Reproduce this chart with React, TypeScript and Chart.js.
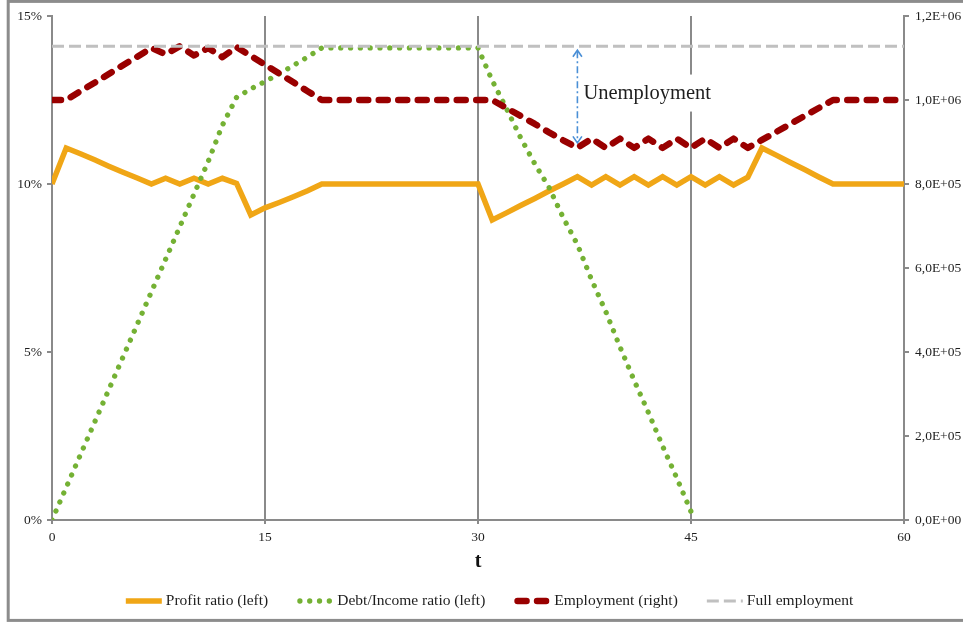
import React, { useEffect, useRef } from "react";
import { Chart, registerables } from "chart.js";

Chart.register(...registerables);

const SERIF = "'Liberation Serif', 'Times New Roman', serif";

const t = [
  0, 1, 2, 3, 4, 5, 6, 7, 8, 9, 10, 11, 12, 13, 14, 15, 16, 17, 18, 19, 20,
  21, 22, 23, 24, 25, 26, 27, 28, 29, 30, 31, 32, 33, 34, 35, 36, 37, 38, 39, 40,
  41, 42, 43, 44, 45, 46, 47, 48, 49, 50, 51, 52, 53, 54, 55, 56, 57, 58, 59, 60,
];

const xTickValues = [0, 15, 30, 45, 60];
const leftTickValues = [0, 5, 10, 15];
const rightTickValues = [0, 200000, 400000, 600000, 800000, 1000000, 1200000];

// Profit ratio (left axis, %)
const profitRatio = [
  10.0, 11.07, 10.9, 10.72, 10.53, 10.35, 10.18, 10.0, 10.17, 10.0, 10.17,
  10.0, 10.17, 10.02, 9.08, 9.29, 9.45, 9.62, 9.8, 10.0, 10.0,
  10.0, 10.0, 10.0, 10.0, 10.0, 10.0, 10.0, 10.0, 10.0, 10.0,
  8.93, 9.14, 9.36, 9.57, 9.79, 10.0, 10.22, 9.97, 10.22, 9.97,
  10.22, 9.97, 10.22, 9.97, 10.22, 9.97, 10.22, 9.97, 10.2, 11.07,
  10.86, 10.64, 10.43, 10.21, 10.0, 10.0, 10.0, 10.0, 10.0, 10.0,
];

// Debt/Income ratio (left axis, %), t = 0..45
const debtIncomeRatio = [
  0, 0.97, 1.94, 2.91, 3.88, 4.85, 5.82, 6.79, 7.76, 8.73, 9.7,
  10.67, 11.75, 12.58, 12.83, 13.05, 13.28, 13.53, 13.78, 14.05, 14.05,
  14.05, 14.05, 14.05, 14.05, 14.05, 14.05, 14.05, 14.05, 14.05, 14.05,
  13.08, 12.25, 11.38, 10.6, 9.9, 9.0, 8.2, 7.15, 6.2, 5.15,
  4.15, 3.2, 2.2, 1.25, 0.25,
];

// Employment (right axis)
const employment = [
  1.0e6, 1.0e6, 1.021e6, 1.041e6, 1.062e6, 1.083e6, 1.103e6, 1.124e6, 1.109e6, 1.128e6, 1.106e6,
  1.124e6, 1.102e6, 1.126e6, 1.105e6, 1.084e6, 1.063e6, 1.042e6, 1.021e6, 1.0e6, 1.0e6,
  1.0e6, 1.0e6, 1.0e6, 1.0e6, 1.0e6, 1.0e6, 1.0e6, 1.0e6, 1.0e6, 1.0e6,
  1.0e6, 0.981e6, 0.962e6, 0.943e6, 0.923e6, 0.904e6, 0.886e6, 0.908e6, 0.886e6, 0.908e6,
  0.886e6, 0.908e6, 0.886e6, 0.908e6, 0.886e6, 0.908e6, 0.886e6, 0.908e6, 0.886e6, 0.905e6,
  0.924e6, 0.943e6, 0.962e6, 0.981e6, 1.0e6, 1.0e6, 1.0e6, 1.0e6, 1.0e6, 1.0e6,
];

// Full employment (right axis)
const fullEmploymentT = [0, 60];
const fullEmployment = [1128000, 1128000];

const seriesNames = [
  "Profit ratio (left)",
  "Debt/Income ratio (left)",
  "Employment (right)",
  "Full employment",
];

const xTitle = "t";
const annotationText = "Unemployment";
const annotationT = 37;

const AXIS_GRAY = "#8a8a8a";
const TEXT = "#1e1e1e";

function toPoints(xs: number[], ys: number[]) {
  return ys.map((y, i) => ({ x: xs[i], y }));
}

function sciLabel(v: number) {
  const [m, e] = Number(v).toExponential(1).split("e");
  const sign = e[0] === "-" ? "-" : "+";
  const digits = e.replace(/[+-]/, "").padStart(2, "0");
  return `${m.replace(".", ",")}E${sign}${digits}`;
}

const borderPlugin = {
  id: "outerBorder",
  beforeDraw(chart: any) {
    const ctx = chart.ctx;
    ctx.save();
    ctx.fillStyle = "#ffffff";
    ctx.fillRect(0, 0, chart.width, chart.height);
    ctx.strokeStyle = "#8c8c8c";
    ctx.lineWidth = 3;
    ctx.strokeRect(8.2, 1.4, chart.width + 10, 619);
    ctx.restore();
  },
};

const annotationPlugin = {
  id: "unemploymentArrow",
  afterDatasetsDraw(chart: any) {
    const ctx = chart.ctx;
    const xs = chart.scales.x;
    const y2 = chart.scales.y2;
    const idx = t.indexOf(annotationT);
    const x = xs.getPixelForValue(annotationT);
    const yTop = y2.getPixelForValue(fullEmployment[0]) + 4;
    const yBot = y2.getPixelForValue(employment[idx]) - 5;
    ctx.save();
    ctx.font = `20.5px ${SERIF}`;
    const w = ctx.measureText(annotationText).width;
    const ty = (yTop + yBot) / 2 - 3;
    ctx.fillStyle = "#ffffff";
    ctx.fillRect(x + 3, ty - 19, w + 10, 37);
    ctx.fillStyle = TEXT;
    ctx.textBaseline = "middle";
    ctx.textAlign = "left";
    ctx.fillText(annotationText, x + 6, ty);
    ctx.strokeStyle = "#4a8fd6";
    ctx.lineWidth = 1.6;
    ctx.setLineDash([7, 3, 2, 3]);
    ctx.beginPath();
    ctx.moveTo(x, yTop + 1);
    ctx.lineTo(x, yBot - 1);
    ctx.stroke();
    ctx.setLineDash([]);
    ctx.beginPath();
    ctx.moveTo(x - 4.5, yTop + 6.5);
    ctx.lineTo(x, yTop);
    ctx.lineTo(x + 4.5, yTop + 6.5);
    ctx.moveTo(x - 4.5, yBot - 6.5);
    ctx.lineTo(x, yBot);
    ctx.lineTo(x + 4.5, yBot - 6.5);
    ctx.stroke();
    ctx.restore();
  },
};

const legendPlugin = {
  id: "lineLegend",
  afterDraw(chart: any) {
    const ctx = chart.ctx;
    const datasets = chart.data.datasets;
    ctx.save();
    ctx.font = `15.5px ${SERIF}`;
    const sampleW = 36;
    const textGap = 4;
    const itemGap = 29;
    const widths = datasets.map(
      (ds: any) => sampleW + textGap + ctx.measureText(ds.label).width
    );
    const total =
      widths.reduce((a: number, b: number) => a + b, 0) +
      itemGap * (datasets.length - 1);
    let x = chart.width / 2 + 8 - total / 2;
    const y = 601;
    datasets.forEach((ds: any, i: number) => {
      ctx.save();
      ctx.strokeStyle = ds.borderColor;
      ctx.lineWidth = ds.borderWidth;
      ctx.lineCap = ds.borderCapStyle || "butt";
      ctx.setLineDash(ds.borderDash || []);
      ctx.beginPath();
      const inset = ctx.lineCap === "round" ? ds.borderWidth / 2 : 0;
      ctx.moveTo(x + inset, y);
      ctx.lineTo(x + sampleW - inset, y);
      ctx.stroke();
      ctx.restore();
      ctx.fillStyle = TEXT;
      ctx.textBaseline = "middle";
      ctx.textAlign = "left";
      ctx.fillText(ds.label, x + sampleW + textGap, y);
      x += widths[i] + itemGap;
    });
    ctx.restore();
  },
};

export default function App() {
  const ref = useRef<HTMLCanvasElement>(null);

  useEffect(() => {
    if (!ref.current) return;
    const tickFont = { family: SERIF, size: 13.5 };
    const chart = new Chart(ref.current, {
      type: "line",
      data: {
        datasets: [
          {
            label: seriesNames[0],
            data: toPoints(t, profitRatio),
            yAxisID: "y",
            borderColor: "#f0a616",
            borderWidth: 5.5,
            borderCapStyle: "butt",
            borderJoinStyle: "miter",
            pointRadius: 0,
            tension: 0,
            order: 4,
          },
          {
            label: seriesNames[1],
            data: toPoints(t, debtIncomeRatio),
            yAxisID: "y",
            borderColor: "#74b134",
            borderWidth: 5.3,
            borderDash: [0.01, 9.8],
            borderCapStyle: "round",
            pointRadius: 0,
            tension: 0,
            order: 3,
          },
          {
            label: seriesNames[2],
            data: toPoints(t, employment),
            yAxisID: "y2",
            borderColor: "#990000",
            borderWidth: 6.5,
            borderDash: [9, 10.5],
            borderCapStyle: "round",
            borderJoinStyle: "round",
            pointRadius: 0,
            tension: 0,
            order: 2,
          },
          {
            label: seriesNames[3],
            data: toPoints(fullEmploymentT, fullEmployment),
            yAxisID: "y2",
            borderColor: "#c0c0c0",
            borderWidth: 3,
            borderDash: [12, 5],
            borderCapStyle: "butt",
            pointRadius: 0,
            tension: 0,
            order: 1,
          },
        ] as any,
      },
      options: {
        responsive: false,
        animation: false,
        layout: { padding: { top: 16, left: 0, right: 0, bottom: 0 } },
        plugins: {
          legend: { display: false },
          tooltip: { enabled: false },
        },
        scales: {
          x: {
            type: "linear",
            min: 0,
            max: 60,
            afterBuildTicks: (scale: any) => {
              scale.ticks = xTickValues.map((v) => ({ value: v }));
            },
            afterFit: (scale: any) => {
              scale.height = 103;
            },
            ticks: {
              font: tickFont,
              color: TEXT,
              padding: 5,
              maxRotation: 0,
              autoSkip: false,
            },
            grid: {
              color: AXIS_GRAY,
              lineWidth: 2,
              drawTicks: true,
              tickLength: 4,
            },
            border: { display: true, color: AXIS_GRAY, width: 2 },
            title: {
              display: true,
              text: xTitle,
              color: "#111",
              font: { family: SERIF, size: 20, weight: "bold" },
              padding: { top: 0, bottom: 49 },
            },
          },
          y: {
            type: "linear",
            position: "left",
            min: 0,
            max: 15,
            afterBuildTicks: (scale: any) => {
              scale.ticks = leftTickValues.map((v) => ({ value: v }));
            },
            afterFit: (scale: any) => {
              scale.width = 52;
            },
            ticks: {
              font: tickFont,
              color: TEXT,
              padding: 5,
              callback: (v: any) => `${v}%`,
            },
            grid: {
              drawOnChartArea: false,
              color: AXIS_GRAY,
              lineWidth: 2,
              drawTicks: true,
              tickLength: 5,
            },
            border: { display: true, color: AXIS_GRAY, width: 2 },
          },
          y2: {
            type: "linear",
            position: "right",
            min: 0,
            max: 1200000,
            afterBuildTicks: (scale: any) => {
              scale.ticks = rightTickValues.map((v) => ({ value: v }));
            },
            afterFit: (scale: any) => {
              scale.width = 59;
            },
            ticks: {
              font: tickFont,
              color: TEXT,
              padding: 6,
              callback: (v: any) => sciLabel(Number(v)),
            },
            grid: {
              drawOnChartArea: false,
              color: AXIS_GRAY,
              lineWidth: 2,
              drawTicks: true,
              tickLength: 5,
            },
            border: { display: true, color: AXIS_GRAY, width: 2 },
          },
        },
      } as any,
      plugins: [borderPlugin, annotationPlugin, legendPlugin],
    });
    return () => chart.destroy();
  }, []);

  return (
    <div
      style={{
        position: "absolute",
        left: 0,
        top: 0,
        width: 963,
        height: 623,
        background: "#fff",
      }}
    >
      <canvas
        ref={ref}
        width={963}
        height={623}
        style={{ width: 963, height: 623, display: "block" }}
      />
    </div>
  );
}
